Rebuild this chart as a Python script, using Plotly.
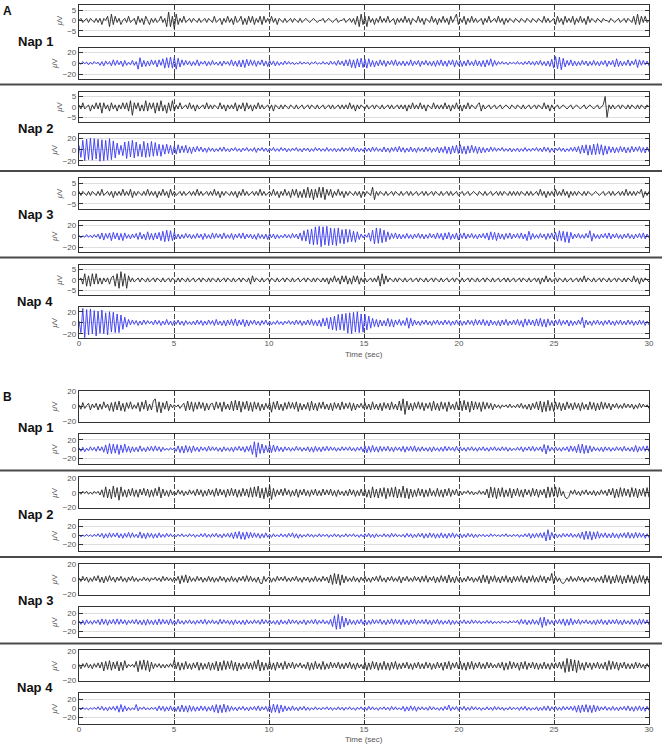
import numpy as np
import plotly.graph_objects as go

# ---------------- data (µV, 10 samples per second, 0–30 s) ----------------
NAPS = ["Nap 1", "Nap 2", "Nap 3", "Nap 4"]
PANELS = ["A", "B"]
XTICKS = [0, 5, 10, 15, 20, 25, 30]
TIME_LABEL = "Time (sec)"

A_NAP1_BLACK = [
    0,1,-1,0,1,-1,1,0,-1,1, -1,1,-2,1,0,2,-3,3,-2,2, -1,1,-2,0,1,-1,2,-1,0,1,
    -2,2,-1,1,-2,2,0,-2,1,-1, 1,-1,0,2,-1,1,-3,4,-3,2, -4,3,-2,1,-1,2,-1,0,1,-1,
    1,0,-1,1,-1,0,1,-1,1,0, -1,2,-1,0,1,-2,1,-1,2,-1, 1,-2,2,-1,0,2,-2,1,-2,2,
    -1,2,-2,1,-1,2,-2,2,-1,1, -1,2,-1,1,-2,1,0,-1,1,-1, 0,1,-1,1,0,-1,1,-1,0,1,
    0,-1,0,1,0,-1,0,0,1,-1, 0,1,0,-1,0,1,-1,0,0,1, -1,0,1,-1,1,-2,2,-3,3,-2,
    2,-3,2,-1,1,-2,1,-1,2,-1, 1,-1,2,-1,0,1,-2,1,-1,1, -1,2,-1,1,-2,1,0,-1,2,-1,
    1,-2,1,0,-1,2,-1,1,-2,1, -1,2,-1,1,-2,2,-1,1,3,-2, 1,-1,2,-2,1,-1,2,-1,1,-1,
    0,1,-2,1,-1,2,-1,0,1,-1, 2,-1,1,-2,1,-1,1,0,-1,1, 0,-1,1,0,-1,1,0,-1,1,0,
    -1,1,0,-1,2,-1,1,-1,0,1, -2,2,-1,1,-2,2,-1,1,-1,2, -2,1,-1,2,-1,1,-2,2,-1,1,
    0,-1,1,0,-1,1,0,0,-1,1, 0,-1,0,1,-1,0,1,-1,1,0, -1,2,-2,3,-2,2,-1,2,-1,0]
A_NAP1_BLUE = [
    1,-2,3,-1,2,-3,2,-2,3,-1, 2,-4,3,-5,4,-2,3,-5,6,-4, 5,-3,4,-6,5,-4,2,-3,5,-4,
    3,-11,10,-7,5,-6,4,-5,6,-3, 5,-7,6,-4,8,-9,10,-8,11,-9, 10,-11,9,-7,6,-4,5,-3,4,-5,
    3,-4,6,-5,3,-2,4,-5,3,-4, 5,-3,2,-4,3,-5,4,-2,3,-4, 6,-5,4,-6,5,-7,6,-8,7,-5,
    6,-4,5,-6,4,-3,6,-5,4,-6, 5,-3,4,-5,3,-4,2,-3,4,-2, 3,-2,2,-3,1,-2,3,-2,2,-1,
    2,-3,2,-1,3,-2,1,-2,3,-2, 2,-3,4,-2,3,-4,5,-3,4,-5, 6,-5,7,-8,6,-9,8,-7,9,-8,
    7,-9,8,-6,5,-7,4,-5,6,-4, 5,-6,4,-3,5,-4,6,-5,3,-4, 4,-5,3,-4,6,-5,4,-3,5,-6,
    4,-3,5,-4,3,-5,4,-6,5,-4, 6,-5,4,-6,5,-3,6,-7,5,-4, 5,-6,4,-5,6,-4,3,-5,6,-5,
    4,-6,5,-7,6,-4,8,-6,5,-4, 3,-2,3,-2,2,-3,2,-1,2,-2, 3,-2,2,-3,3,-2,4,-3,3,-4,
    4,-3,5,-4,3,-5,4,-6,7,-9, 12,-10,11,-12,9,-7,5,-4,6,-5, 4,-5,3,-4,5,-3,4,-5,3,-4,
    5,-4,3,-5,4,-3,5,-6,4,-3, 5,-7,8,-6,4,-5,3,-4,6,-5, 4,-3,7,-8,6,-4,5,-3,4,-5]
A_NAP2_BLACK = [
    1,-1,2,-1,0,1,-2,1,-1,2, -1,2,-3,2,-1,1,-2,2,-1,1, -2,1,-1,2,-1,2,-2,3,-4,2,
    -1,2,-2,1,-2,3,-2,2,-1,2, -3,2,-2,3,-2,1,-3,2,-2,3, -2,1,-1,2,-1,0,1,-1,2,-1,
    1,-2,1,-1,0,1,-1,2,-1,1, -1,1,0,-1,2,-1,1,-2,1,-1, 1,-1,2,-2,1,-1,2,-2,2,-1,
    1,-2,1,-1,2,-1,1,-1,0,1, -1,1,-2,1,0,-1,1,-1,1,0, -1,1,0,-1,1,-1,0,1,-1,0,
    1,-1,1,0,-1,1,-1,0,1,-1, 0,1,-1,1,-1,0,1,-1,1,-1, 1,-1,2,-1,1,-2,1,-1,1,0,
    -1,1,-1,0,1,-1,1,0,-1,1, -1,0,1,-1,1,-1,0,1,-1,1, -1,1,-2,1,-1,2,-1,1,-1,2,
    -1,1,-2,1,0,-1,2,-1,1,-1, 1,-1,2,-1,1,-2,1,-1,2,-1, 1,-2,1,-1,2,-1,1,0,-1,1,
    2,-2,1,-1,0,1,-1,0,1,-1, 0,1,-1,0,1,0,-1,1,0,-1, 1,0,-1,1,-1,0,1,-1,0,1,
    -1,1,0,-1,2,-1,1,-2,1,-1, 0,1,-1,0,1,0,-1,0,1,-1, 0,1,0,-1,0,1,-1,0,1,0,
    -1,0,1,-1,0,1,5,-5,1,-1, 1,-1,0,1,-1,1,0,-1,1,-1, 1,0,-1,1,-1,1,0,-1,1,0]
A_NAP2_BLUE = [
    8,-14,17,-20,19,-18,21,-19,20,-17, 19,-21,18,-20,17,-19,20,-18,16,-15, 12,-9,8,-11,14,-16,15,-13,17,-15,
    14,-12,10,-13,15,-14,12,-13,15,-12, 13,-11,10,-12,9,-8,10,-7,8,-9, 7,-8,9,-6,7,-5,8,-6,5,-7,
    5,-4,6,-3,5,-4,3,-5,4,-3, 3,-4,2,-3,4,-3,5,-3,2,-4, 3,-2,4,-3,2,-4,3,-2,4,-3,
    2,-3,4,-5,3,-2,4,-3,3,-4, 3,-2,4,-3,2,-3,4,-2,3,-4, 2,-3,3,-2,4,-3,2,-4,3,-2,
    3,-4,2,-3,4,-2,3,-3,2,-3, 4,-3,2,-3,3,-4,2,-3,4,-3, 3,-2,4,-3,5,-4,3,-4,2,-3,
    4,-3,3,-4,5,-3,4,-3,2,-4, 5,-4,3,-5,4,-3,5,-4,6,-4, 4,-5,3,-4,5,-4,3,-5,4,-3,
    3,-4,5,-3,4,-5,3,-4,5,-6, 4,-5,6,-7,5,-8,7,-6,8,-7, 9,-7,6,-8,7,-6,8,-5,6,-7,
    5,-6,4,-5,3,-4,5,-3,4,-3, 3,-2,4,-3,2,-3,3,-4,2,-3, 3,-4,2,-3,4,-3,2,-3,3,-2,
    4,-3,3,-4,5,-3,4,-5,3,-4, 3,-2,4,-3,3,-4,2,-3,4,-3, 5,-4,6,-7,8,-6,9,-10,8,-9,
    10,-9,11,-8,9,-10,7,-8,6,-5, 5,-6,4,-5,6,-4,5,-6,4,-5, 6,-4,5,-3,6,-5,4,-6,5,-4]
A_NAP3_BLACK = [
    1,-1,1,0,-1,1,-1,1,0,-1, 1,-1,2,-1,0,1,-1,1,-2,1, -1,1,-1,2,-1,1,-1,2,-2,1,
    -1,1,0,-1,1,-1,2,-1,1,-1, 1,-2,1,-1,2,-1,1,-2,2,-1, 1,-1,0,1,-1,1,-1,0,1,-1,
    1,-1,2,-1,1,-1,0,1,-1,1, -1,2,-1,1,-2,1,-1,1,0,-1, 1,-1,1,-2,1,-1,2,-1,1,-1,
    0,1,-1,1,-1,2,-1,1,-1,0, 1,-1,2,-1,1,-2,1,-1,2,-1, 1,-2,2,-1,2,-2,1,-2,2,-2,
    3,-2,2,-3,2,-2,3,-2,3,-3, 2,-1,2,-2,1,-1,2,-1,1,-2, 1,-1,1,0,-1,1,-1,1,-2,1,
    -1,1,0,-1,3,-3,1,-1,1,0, -1,1,-1,0,1,-1,1,0,-1,1, -1,0,1,-1,1,-1,0,1,-1,0,
    1,-1,1,-1,0,1,-1,1,0,-1, 1,-1,0,1,-1,1,-1,0,1,-1, 0,1,-1,0,1,-1,0,1,0,-1,
    1,0,-1,1,-1,0,1,-1,0,1, -1,1,-1,1,0,-1,1,-1,1,-1, 1,-1,1,0,-1,1,-1,1,-1,0,
    1,-1,2,-1,1,-2,1,-1,1,-1, 2,-1,1,-1,2,-1,1,-2,1,-1, 1,-1,1,0,-1,1,-1,1,0,-1,
    0,1,0,-1,0,1,-1,0,1,-1, 1,-1,0,1,-1,1,-1,2,-1,1, -1,1,-1,1,0,2,-2,1,-1,1]
A_NAP3_BLUE = [
    2,-3,1,-2,3,-2,2,-3,3,-2, 4,-5,6,-7,5,-4,6,-8,7,-5, 6,-7,5,-8,6,-4,3,-5,4,-3,
    5,-6,7,-5,4,-7,8,-6,5,-7, 6,-5,7,-8,9,-10,11,-9,10,-8, 7,-5,4,-5,3,-4,5,-3,4,-5,
    3,-4,5,-3,4,-6,5,-4,3,-5, 6,-4,5,-3,4,-5,6,-4,3,-4, 5,-6,4,-3,5,-4,6,-5,4,-3,
    4,-5,3,-6,5,-4,3,-5,4,-6, 5,-3,4,-5,3,-4,2,-3,4,-3, 3,-4,5,-3,4,-5,6,-8,10,-9,
    12,-14,13,-16,17,-15,18,-19,17,-16, 18,-17,15,-16,14,-17,15,-13,12,-14, 13,-11,12,-10,9,-11,8,-6,4,-3,
    3,-2,6,-9,11,-14,15,-13,14,-12, 11,-10,8,-6,5,-4,6,-5,4,-5, 3,-4,5,-4,3,-5,4,-3,5,-4,
    4,-5,3,-4,5,-3,4,-5,6,-4, 5,-7,6,-5,7,-6,4,-5,6,-7, 5,-4,6,-5,4,-3,5,-4,3,-5,
    4,-3,5,-4,6,-7,8,-6,7,-8, 6,-5,4,-6,5,-4,6,-5,4,-3, 5,-4,6,-5,4,-8,9,-6,5,-4,
    3,-4,5,-3,4,-6,5,-4,6,-5, 7,-9,10,-8,9,-11,8,-12,7,-5, 4,-3,5,-4,3,-4,5,-3,10,-9,
    5,-4,3,-5,4,-3,5,-4,6,-5, 4,-3,5,-4,3,-5,4,-3,5,-4, 3,-5,4,-3,5,-4,6,-5,4,-3]
A_NAP4_BLACK = [
    0,1,-2,3,-3,2,-3,3,-2,3, -2,1,-2,1,-1,1,-2,1,2,-3, 3,-4,4,-3,3,-4,2,-1,1,-1,
    0,1,-1,1,0,-1,1,-1,0,1, -1,1,0,-1,1,-1,0,1,-1,1, 0,-1,1,-1,1,0,-1,1,-1,0,
    1,-1,0,1,-1,1,0,-1,1,-1, 1,0,-1,1,-1,0,1,-1,1,0, -1,1,-1,0,1,-1,1,0,-1,1,
    -2,2,-1,1,0,-1,1,-1,0,1, -1,1,0,-1,1,-1,0,1,-1,1, 0,-1,1,-1,0,1,-1,0,1,-1,
    1,0,-1,1,-1,1,0,-1,1,-1, 1,-2,1,-1,2,-1,1,-2,2,-1, 2,-2,1,-2,2,-1,2,-2,1,-1,
    1,-1,0,1,-1,1,-1,2,-3,3, -2,2,-1,1,0,-1,1,-1,1,0, -1,1,-1,0,1,-1,0,1,-1,1,
    0,-1,1,-1,0,1,-1,1,0,-1, 1,-1,0,1,-1,0,1,-1,1,0, -1,1,-1,0,1,-1,1,0,-1,1,
    -1,0,1,-1,1,0,-1,1,-1,0, 1,-1,0,1,-1,1,-1,0,1,-1, 0,1,-1,1,0,-1,1,-1,0,1,
    -1,1,-2,1,-1,2,-1,1,-1,0, 1,-1,1,0,-1,1,-1,0,1,-1, 0,1,-1,1,-1,2,-1,1,0,-1,
    1,-1,0,1,-1,1,0,-1,1,-1, 0,1,-1,1,0,-1,1,-1,1,0, -1,2,-1,1,-2,1,-1,1,0,-1]
A_NAP4_BLUE = [
    3,-18,26,-27,24,-22,25,-20,22,-24, 21,-19,23,-20,18,-22,20,-17,19,-18, 16,-18,14,-12,10,-8,6,-4,5,-3,
    4,-5,3,-4,5,-3,4,-2,3,-4, 5,-3,4,-5,3,-4,6,-4,3,-5, 4,-3,5,-4,3,-5,4,-3,2,-4,
    3,-4,5,-3,4,-5,3,-4,5,-3, 4,-5,6,-4,3,-5,4,-6,5,-4, 6,-5,7,-6,5,-4,6,-7,5,-6,
    4,-3,5,-4,3,-5,4,-3,5,-4, 3,-4,2,-3,4,-3,2,-4,3,-2, 4,-3,3,-4,5,-3,4,-5,3,-4,
    5,-4,6,-5,4,-6,5,-7,8,-6, 9,-11,10,-13,12,-14,15,-13,16,-14, 17,-19,18,-20,19,-17,20,-18,16,-17,
    15,-13,12,-10,8,-7,6,-8,5,-6, 4,-6,8,-7,6,-8,5,-4,6,-5, 4,-5,9,-10,8,-6,5,-4,3,-5,
    4,-3,5,-4,3,-5,4,-3,5,-4, 3,-4,5,-3,4,-5,3,-4,5,-3, 4,-5,3,-4,5,-3,4,-5,6,-4,
    5,-4,6,-5,4,-6,5,-4,3,-5, 4,-6,5,-4,6,-5,3,-4,5,-4, 6,-5,4,-8,7,-5,6,-4,5,-6,
    7,-6,8,-7,6,-8,7,-5,4,-5, 5,-4,6,-5,4,-3,5,-6,4,-5, 3,-4,5,-3,10,-9,5,-4,3,-5,
    4,-3,5,-4,3,-5,4,-3,5,-4, 3,-5,4,-3,5,-4,3,-4,5,-3, 4,-5,3,-4,5,-3,4,-5,3,-4]

B_NAP1_BLACK = [
    2,-4,5,-3,1,4,-5,3,-2,4, -5,3,-4,6,-2,3,-6,5,-7,6, -5,7,-6,4,-7,5,-3,6,-4,2,
    -3,5,-7,6,-4,8,-6,3,-5,7, 10,-8,6,-9,5,-4,7,-6,3,-2, 2,-1,2,-3,1,4,-6,7,-5,6,
    -7,5,-4,6,-3,5,-6,4,-5,3, 4,-5,6,-3,5,-7,6,-4,3,-5, 7,-6,8,-5,7,-8,6,-4,7,-6,
    5,-7,6,-4,5,-6,3,-5,4,-3, 5,-8,6,-4,7,-5,3,-6,5,-4, 6,-3,5,-4,6,-7,4,-5,3,-4,
    5,-6,7,-5,4,-6,5,-3,6,-4, 3,-5,4,-6,5,-3,4,-5,6,-4, 4,-3,5,-6,4,-5,3,-2,4,-3,
    5,-4,3,-5,6,-4,3,-5,4,-6, 5,-3,4,-5,6,-4,3,-5,7,-6, 10,-11,7,-5,4,-6,5,-3,6,-4,
    5,-6,4,-3,5,-6,7,-5,4,-6, 6,-4,5,-7,6,-4,3,-5,6,-5, 7,-6,8,-5,6,-8,7,-5,6,-4,
    5,-7,6,-4,5,-3,4,-5,3,-2, 2,-3,2,-1,2,-2,3,-2,1,-2, 3,-2,4,-3,2,-4,3,-5,4,-3,
    6,-5,7,-8,6,-7,8,-6,5,-7, 6,-4,5,-6,4,-5,6,-3,4,-5, 5,-3,4,-6,5,-4,3,-5,6,-4,
    5,-6,4,-5,6,-4,5,-3,4,-5, 3,-2,4,-3,2,-3,4,-2,3,-2, 3,-4,2,-3,4,-2,3,-1,2,-3]
B_NAP1_BLUE = [
    3,-5,4,-6,2,-4,5,-3,4,-5, 6,-4,5,-7,9,-11,12,-10,11,-9, 10,-12,9,-8,11,-7,6,-8,5,-6,
    4,-6,7,-5,3,-6,5,-4,6,-5, 7,-4,5,-6,4,-3,2,-3,3,-2, 3,-5,7,-8,6,-9,8,-7,6,-8,
    7,-5,4,-6,5,-3,4,-5,6,-4, 5,-3,4,-5,3,-6,5,-4,3,-5, 4,-6,5,-3,6,-4,5,-7,6,-5,
    8,-12,16,-18,14,-10,11,-9,8,-7, 10,-8,9,-6,7,-5,4,-6,5,-3, 4,-5,3,-4,6,-3,4,-5,3,-4,
    5,-6,4,-7,6,-5,4,-6,5,-4, 6,-4,5,-3,4,-5,3,-4,5,-3, 4,-3,5,-4,3,-5,4,-3,5,-6,
    7,-8,6,-7,8,-6,5,-7,6,-5, 5,-4,6,-5,4,-6,5,-3,4,-5, 6,-7,5,-4,6,-5,7,-6,4,-5,
    5,-4,3,-5,4,-6,5,-4,3,-5, 4,-5,6,-4,5,-3,4,-5,6,-4, 5,-4,3,-5,4,-3,5,-4,3,-5,
    4,-3,5,-4,3,-5,4,-3,5,-4, 3,-4,5,-3,4,-5,3,-4,2,-3, 4,-3,5,-6,4,-3,5,-4,6,-5,
    4,-3,5,-6,10,-11,8,-5,4,-3, 5,-4,3,-5,4,-3,5,-6,7,-5, 6,-8,10,-9,11,-10,8,-9,7,-6,
    5,-4,3,-5,4,-6,5,-3,4,-5, 3,-4,5,-3,4,-5,6,-4,3,-5, 4,-6,8,-7,5,-4,6,-5,7,-6]
B_NAP2_BLACK = [
    1,-2,2,-1,2,-2,1,-2,2,-1, 2,-3,4,-6,8,-7,5,-8,9,-6, 7,-10,8,-5,4,-6,5,-4,6,-5,
    4,-6,5,-3,6,-4,5,-6,4,-5, 6,-4,8,-7,5,-4,3,-5,4,-3, 2,-3,4,-2,3,-4,2,-3,4,-2,
    3,-4,5,-3,4,-5,3,-4,5,-3, 4,-5,6,-4,5,-3,4,-6,5,-4, 6,-4,5,-6,4,-5,6,-4,5,-6,
    7,-6,8,-5,9,-7,6,-8,7,-6, 10,-9,6,-5,4,-3,5,-4,6,-3, 4,-5,3,-4,5,-6,4,-3,5,-4,
    3,-5,4,-3,5,-4,3,-4,5,-3, 4,-3,5,-4,3,-5,4,-3,2,-4, 3,-4,5,-3,4,-5,3,-4,5,-4,
    5,-6,4,-7,8,-6,5,-7,6,-5, 7,-8,6,-5,7,-6,8,-7,5,-6, 9,-7,6,-8,5,-6,4,-5,6,-4,
    5,-6,4,-5,6,-4,3,-5,6,-5, 4,-6,5,-4,6,-5,4,-3,5,-4, 2,-3,2,-1,3,-2,2,-3,1,-2,
    3,-2,2,-3,5,-7,8,-6,7,-8, 6,-5,7,-6,4,-5,6,-7,5,-4, 6,-5,4,-6,5,-3,4,-5,6,-4,
    5,-6,4,-3,5,-7,8,-6,7,-5, 8,-6,7,-4,2,-6,-8,-5,3,-2, 4,-3,2,-4,3,-2,4,-3,2,-3,
    3,-4,2,-3,4,-2,3,-4,5,-3, 6,-7,5,-6,7,-5,6,-4,5,-6, 7,-5,6,-7,5,-4,6,-5,7,-6]
B_NAP2_BLUE = [
    2,-3,1,-2,3,-2,2,-3,3,-2, 4,-3,5,-6,4,-5,6,-4,5,-3, 6,-5,4,-6,5,-4,7,-5,6,-4,
    3,-5,8,-6,5,-7,6,-4,5,-6, 4,-5,6,-4,3,-4,5,-3,4,-3, 2,-3,3,-2,4,-3,2,-3,4,-2,
    3,-4,2,-3,4,-3,5,-4,3,-4, 4,-3,5,-4,3,-5,4,-3,5,-4, 6,-7,8,-6,9,-8,7,-9,8,-6,
    7,-5,6,-4,5,-6,4,-5,6,-4, 3,-4,4,-3,2,-3,4,-3,3,-4, 5,-3,6,-5,4,-6,3,-4,2,-3,
    4,-3,3,-4,2,-3,4,-3,3,-2, 3,-4,2,-3,4,-3,3,-4,2,-3, 4,-3,3,-2,4,-3,2,-4,3,-3,
    4,-3,5,-4,3,-5,4,-3,2,-3, 4,-3,3,-4,5,-3,4,-3,2,-3, 3,-4,5,-3,4,-5,3,-4,5,-3,
    5,-6,4,-5,6,-4,5,-6,4,-5, 6,-5,4,-6,5,-4,6,-5,4,-3, 4,-5,3,-4,5,-3,4,-5,3,-4,
    3,-2,3,-3,2,-3,4,-2,3,-2, 2,-3,3,-2,4,-3,2,-3,3,-2, 3,-4,2,-3,4,-3,5,-6,4,-5,
    5,-4,6,-5,7,-12,13,-10,7,-5, 4,-5,3,-4,5,-3,4,-3,5,-4, 3,-4,5,-6,8,-9,10,-8,9,-10,
    8,-7,9,-6,5,-4,6,-5,4,-5, 6,-5,4,-6,5,-4,6,-5,7,-6, 5,-6,7,-5,6,-4,5,-6,4,-5]
B_NAP3_BLACK = [
    2,-3,4,-2,3,-4,2,-3,4,-2, 5,-4,3,-5,4,-3,5,-2,3,-4, 3,-2,4,-3,2,-4,3,-2,4,-3,
    2,-3,1,-2,3,-2,2,-3,2,-1, 3,-2,2,-3,4,-2,3,-2,2,-3, 3,-2,4,-6,5,-4,6,-5,4,-3,
    2,-3,4,-2,3,-4,2,-3,4,-3, 3,-4,2,-3,4,-2,3,-4,2,-3, 4,-3,2,-4,3,-2,4,-3,5,-3,
    4,-3,2,-4,3,-5,-6,4,-3,2, 3,-4,2,-3,4,-2,3,-2,4,-3, 2,-3,3,-2,4,-3,2,-4,3,-2,
    3,-4,2,-3,4,-3,2,-3,4,-2, 3,-5,6,-7,8,-6,7,-8,6,-5, 4,-3,2,-3,4,-3,2,-4,3,-2,
    4,-3,2,-4,3,-2,4,-3,5,-3, 2,-4,3,-2,4,-3,2,-3,4,-5, 3,-2,4,-3,2,-3,4,-2,3,-4,
    4,-3,5,-4,3,-2,4,-5,3,-4, 5,-3,4,-5,6,-4,3,-5,4,-3, 3,-4,2,-3,4,-2,3,-4,2,-3,
    4,-5,6,-4,5,-6,4,-3,5,-4, 3,-5,4,-3,5,-4,3,-5,4,-3, 4,-3,5,-4,3,-5,4,-3,5,-4,
    3,-4,5,-3,4,-5,3,-2,8,-6, 4,-3,2,-4,-6,-3,2,-3,4,-3, 2,-3,4,-2,3,-4,2,-3,3,-2,
    3,-4,2,-3,4,-5,6,-4,5,-6, 4,-5,6,-4,5,-6,4,-5,6,-4, 5,-6,4,-5,6,-4,5,-6,4,-5]
B_NAP3_BLUE = [
    3,-5,4,-6,5,-4,3,-5,4,-3, 5,-6,7,-5,6,-7,5,-4,6,-5, 7,-5,6,-4,5,-6,4,-3,5,-4,
    6,-5,4,-6,5,-7,6,-5,4,-6, 5,-6,7,-5,6,-4,5,-6,7,-5, 4,-5,6,-4,3,-5,4,-3,5,-4,
    3,-5,4,-3,5,-4,6,-5,4,-3, 5,-4,3,-5,6,-4,5,-3,4,-5, 4,-6,5,-4,3,-5,4,-6,5,-4,
    3,-4,5,-3,4,-5,6,-4,5,-3, 5,-4,3,-5,4,-6,5,-4,3,-5, 6,-4,5,-3,4,-5,3,-4,5,-6,
    4,-3,5,-4,6,-5,4,-3,5,-4, 3,-5,6,-10,14,-16,17,-15,13,-11, 9,-7,6,-5,4,-6,5,-4,6,-5,
    5,-6,4,-5,6,-4,5,-3,6,-5, 4,-6,5,-4,7,-5,6,-4,5,-6, 6,-5,4,-6,5,-4,6,-5,4,-3,
    5,-4,6,-5,4,-6,5,-4,6,-5, 4,-5,3,-4,5,-6,4,-5,3,-4, 4,-3,5,-4,3,-4,5,-3,4,-3,
    3,-4,2,-3,4,-3,3,-4,2,-3, 2,-3,3,-2,2,-3,3,-2,3,-2, 4,-5,6,-4,5,-6,4,-5,6,-5,
    4,-6,10,-12,11,-8,6,-5,4,-6, 5,-4,6,-5,7,-8,6,-7,8,-6, 5,-4,6,-5,4,-3,5,-4,3,-5,
    4,-6,5,-4,6,-5,4,-6,5,-4, 5,-4,6,-5,4,-6,5,-4,3,-5, 6,-5,4,-6,7,-5,6,-4,5,-6]
B_NAP4_BLACK = [
    2,-4,3,-2,4,-3,2,-4,3,-2, 4,-3,5,-7,6,-5,7,-6,5,-4, 6,-7,5,-6,7,-3,2,-1,2,-2,
    6,-8,7,-5,8,-6,7,-8,5,-4, 3,-2,3,-3,2,-3,2,-2,3,-2, 8,-4,5,-6,4,-5,6,-4,3,-5,
    4,-3,5,-6,4,-5,3,-4,5,-6, 4,-5,6,-7,5,-6,7,-5,6,-4, 7,-6,5,-7,4,-5,3,-4,5,-4,
    4,-5,6,-4,8,-7,5,-6,4,-5, 6,-5,4,-6,5,-3,4,-5,6,-4, 4,-3,5,-4,3,-2,4,-3,2,-4,
    5,-6,4,-5,6,-4,3,-5,6,-5, 3,-4,5,-3,4,-3,5,-4,3,-4, 4,-3,5,-4,3,-5,4,-3,2,-4,
    5,-6,4,-5,6,-4,5,-6,4,-5, 6,-5,4,-6,5,-4,6,-5,3,-4, 4,-3,5,-4,3,-5,4,-3,5,-4,
    3,-4,5,-3,4,-5,3,-4,5,-3, 4,-6,5,-4,6,-5,4,-3,5,-4, 6,-5,4,-6,5,-4,6,-5,4,-3,
    5,-4,3,-4,5,-3,4,-3,2,-3, 4,-3,5,-6,4,-5,6,-4,5,-3, 4,-6,5,-4,6,-5,4,-3,5,-4,
    4,-5,3,-4,5,-4,3,-5,4,-3, 4,-3,5,-4,6,-9,10,-8,9,-7, 8,-9,7,-5,4,-6,5,-3,4,-5,
    4,-3,5,-4,3,-4,5,-6,7,-5, 6,-4,5,-6,4,-3,5,-4,3,-4, 3,-4,5,-3,4,-3,2,-4,3,-2]
B_NAP4_BLUE = [
    2,-3,3,-2,1,-3,2,-2,3,-2, 4,-3,5,-4,3,-5,4,-3,5,-4, 6,-8,9,-7,6,-5,3,-4,2,-3,
    9,-5,3,-2,4,-3,2,-3,3,-2, 3,-5,6,-4,5,-6,4,-5,6,-5, 4,-6,5,-7,8,-7,6,-8,7,-6,
    5,-6,4,-5,6,-4,5,-6,4,-5, 7,-8,9,-10,8,-9,10,-8,7,-6, 5,-4,3,-5,4,-3,5,-4,3,-5,
    4,-3,5,-4,6,-5,4,-3,5,-6, 8,-9,10,-8,9,-10,8,-7,6,-5, 4,-5,6,-4,3,-5,4,-3,5,-4,
    3,-4,2,-3,4,-3,2,-3,3,-2, 4,-3,3,-4,2,-3,4,-3,3,-4, 3,-2,4,-3,2,-4,3,-2,4,-3,
    3,-4,5,-3,4,-3,2,-4,3,-2, 4,-3,3,-4,5,-3,4,-3,2,-3, 5,-6,4,-5,6,-4,5,-6,4,-3,
    4,-3,3,-4,5,-3,4,-3,2,-4, 3,-4,5,-3,8,-5,4,-3,5,-4, 4,-3,5,-4,3,-4,5,-3,4,-3,
    3,-4,2,-3,4,-3,3,-4,5,-3, 4,-3,3,-4,2,-3,4,-3,3,-2, 3,-4,4,-3,5,-4,3,-4,2,-3,
    4,-5,3,-4,5,-4,6,-5,4,-3, 5,-4,3,-4,5,-3,4,-3,5,-4, 6,-8,7,-9,8,-7,9,-8,7,-9,
    8,-7,6,-5,4,-3,5,-4,3,-4, 5,-4,3,-5,4,-3,5,-4,6,-5, 4,-6,5,-4,6,-5,4,-6,5,-4]

SIGNALS = {
    "A": [(A_NAP1_BLACK, A_NAP1_BLUE), (A_NAP2_BLACK, A_NAP2_BLUE),
          (A_NAP3_BLACK, A_NAP3_BLUE), (A_NAP4_BLACK, A_NAP4_BLUE)],
    "B": [(B_NAP1_BLACK, B_NAP1_BLUE), (B_NAP2_BLACK, B_NAP2_BLUE),
          (B_NAP3_BLACK, B_NAP3_BLUE), (B_NAP4_BLACK, B_NAP4_BLUE)],
}
Y_RANGES = {"A": ([-7.4, 7.4], [-28, 28]), "B": ([-20.8, 20.8], [-34, 34])}
Y_TICKS = {"A": ([-5, 0, 5], [-20, 0, 20]), "B": ([-20, 0, 20], [-20, 0, 20])}

# ---------------- layout geometry (pixels) ----------------
W, H = 662, 745
ML, MR, MT, MB = 79, 13, 1, 21
PW = W - ML - MR
PH = H - MT - MB
BOTTOM = H - MB


def yp(py):
    return (BOTTOM - py) / PH


def xp(px):
    return (px - ML) / PW


PANEL_OFFSET = {"A": 0, "B": 388}
STEP = 87
FONT = "Liberation Sans, Arial, sans-serif"
TICK_COLOR = "#555555"
COL_BLACK = "#262626"
COL_BLUE = "#3838f2"

fig = go.Figure()
layout = dict(
    width=W, height=H,
    margin=dict(l=ML, r=MR, t=MT, b=MB),
    paper_bgcolor="white", plot_bgcolor="white",
    showlegend=False,
    font=dict(family=FONT, size=8, color=TICK_COLOR),
)
shapes = []
annotations = []

n = 0
for panel in PANELS:
    off = PANEL_OFFSET[panel]
    for k, nap in enumerate(NAPS):
        for row in range(2):
            n += 1
            sfx = "" if n == 1 else str(n)
            vals = SIGNALS[panel][k][row]
            t = np.linspace(0, 30, len(vals))
            top = (1 if row == 0 else 44) + off + STEP * k
            bot = top + 31
            fig.add_trace(go.Scatter(
                x=t, y=vals, mode="lines",
                line=dict(color=COL_BLACK if row == 0 else COL_BLUE, width=0.9),
                xaxis="x" + sfx, yaxis="y" + sfx, hoverinfo="skip"))
            last = (k == 3 and row == 1)
            layout["xaxis" + sfx] = dict(
                domain=[0, 1], range=[0, 30], anchor="y" + sfx,
                tickvals=XTICKS, ticks="inside", ticklen=4, tickcolor="#333",
                showline=True, linecolor="#333", linewidth=1.3, mirror="ticks",
                showgrid=True, gridcolor="#4a4a4a", griddash="5px,2px", gridwidth=1,
                zeroline=False, showticklabels=last, ticklabelstandoff=-3,
                tickfont=dict(size=8, color=TICK_COLOR), fixedrange=True)
            layout["yaxis" + sfx] = dict(
                domain=[yp(bot), yp(top)], anchor="x" + sfx,
                range=Y_RANGES[panel][row], tickvals=Y_TICKS[panel][row],
                ticks="inside", ticklen=4, tickcolor="#333",
                showline=True, linecolor="#333", linewidth=1.3, mirror="ticks",
                showgrid=True, gridcolor="#dedede", gridwidth=1, zeroline=False,
                tickfont=dict(size=8, color=TICK_COLOR),
                title=dict(text="<i>μ</i>V", font=dict(size=8, color=TICK_COLOR), standoff=3),
                fixedrange=True)
        annotations.append(dict(
            text="<b>%s</b>" % nap, xref="paper", yref="paper",
            x=xp(35), y=yp(off + STEP * k + 38), xanchor="center", yanchor="middle",
            showarrow=False, font=dict(family=FONT, size=13, color="#111")))
        if k < 3:
            sy = yp(off + 81 + STEP * k)
            shapes.append(dict(type="line", xref="paper", yref="paper",
                               x0=xp(0), x1=xp(W), y0=sy, y1=sy,
                               line=dict(color="#4a4a4a", width=2)))
    annotations.append(dict(
        text="<b>%s</b>" % panel, xref="paper", yref="paper",
        x=xp(1), y=yp(off + 7), xanchor="left", yanchor="middle",
        showarrow=False, font=dict(family=FONT, size=12, color="#111")))
    annotations.append(dict(
        text=TIME_LABEL, xref="paper", yref="paper",
        x=0.5, y=yp(off + 352), xanchor="center", yanchor="middle",
        showarrow=False, font=dict(family=FONT, size=8, color=TICK_COLOR)))

layout["shapes"] = shapes
layout["annotations"] = annotations
fig.update_layout(**layout)
fig.write_html("out.html",
               config={"displayModeBar": False},
               post_script="document.body.style.margin='0';document.body.style.padding='0';")
